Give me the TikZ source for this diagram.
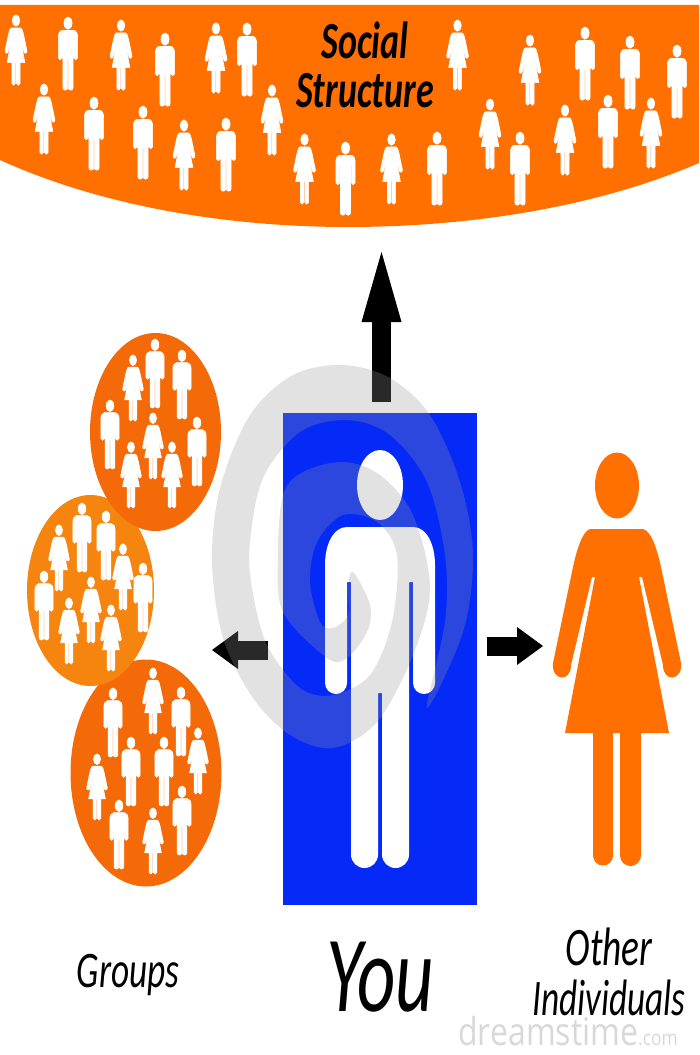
\documentclass[tikz,border=0pt]{standalone}
\usepackage{fontspec}
\setmainfont{Carlito}
\newfontfamily\markfont{Open Sans}
\usetikzlibrary{arrows.meta,positioning}
\definecolor{bannerorange}{HTML}{FF7000}
\definecolor{darkcircle}{HTML}{F56A08}
\definecolor{midcircle}{HTML}{F5850F}
\definecolor{youblue}{HTML}{052AF8}
\definecolor{swirlgray}{RGB}{150,150,150}
\definecolor{markgray}{HTML}{D8D8D8}
\tikzset{
  pics/man/.style={code={
    \path[pic actions] (0,-35) ellipse [x radius=23,y radius=35];
    \path[pic actions] (-33,-77) -- (33,-77) .. controls (47,-77) and (55,-95) .. (55,-115)
      -- (55,-233) arc (0:-180:11) -- (33,-132) -- (29,-132) -- (29,-404.5) arc (0:-180:13.5)
      -- (2,-243) -- (-2,-243) -- (-2,-404.5) arc (0:-180:13.5) -- (-29,-132) -- (-33,-132)
      -- (-33,-233) arc (0:-180:11) -- (-55,-115) .. controls (-55,-95) and (-47,-77) .. cycle;
  }},
  pics/woman/.style={code={
    \path[pic actions] (0,-32.5) ellipse [x radius=22,y radius=33];
    \path[pic actions] (-27,-76) -- (26,-76) .. controls (35,-78) and (41,-100) .. (44,-114)
      -- (64,-210) .. controls (66,-228) and (46,-230) .. (46,-212) -- (25,-124) -- (22,-124)
      -- (52,-280) -- (24,-280) -- (24,-402.5) arc (0:-180:10.5) -- (3,-280) -- (-4,-280)
      -- (-4,-402.5) arc (0:-180:10) -- (-24,-280) -- (-52,-280) -- (-22,-124) -- (-25,-124)
      -- (-46,-212) .. controls (-46,-230) and (-66,-228) .. (-64,-210) -- (-44,-114)
      .. controls (-41,-100) and (-35,-78) .. cycle;
  }}
}

\begin{document}
\begin{tikzpicture}[x=0.75pt,y=0.75pt,
    crowdman/.style={fill=white,draw=white,line width=.5pt,scale=.175},
    crowdwoman/.style={fill=white,draw=white,line width=.5pt,scale=.17},
    groupman/.style={fill=white,draw=white,line width=.5pt,scale=.165},
    groupwoman/.style={fill=white,draw=white,line width=.5pt,scale=.16},
    youbox/.style={fill=youblue,minimum width=145.5pt,minimum height=369pt,inner sep=0pt},
    bigarrow/.style={line width=14.25pt,-{Triangle[length=52.5pt,width=30pt,line width=0pt]}},
    sidearrow/.style={line width=14.25pt,-{Triangle[length=19.5pt,width=28.5pt,line width=0pt]}},
    swirl/.style={fill=swirlgray,fill opacity=.276},
    caption/.style={font=\itshape,transform shape,yscale=1.45,inner sep=0pt}]
  \useasboundingbox (0,0) rectangle (699,-1055);

  \fill[bannerorange] (0,-5) -- (699,-5) -- (699,-163)
    .. controls (590,-210) and (460,-227) .. (348,-227)
    .. controls (240,-227) and (110,-210) .. (0,-160) -- cycle;
  \foreach \x/\y in {68/17,165/33,247/23,94/97,143/106,226/118,345.5/142,437/132,
                     585/27,630/36,677/45,520/132,608/95}
    \pic[crowdman] at (\x,-\y) {man};
  \foreach \x/\y in {16/15,121/20,216/23,44/84,184/120,272/85,304.5/134,391.5/134,
                     457.5/20,530/35,490/99,565/105,651/98}
    \pic[crowdwoman] at (\x,-\y) {woman};
  \node[caption,font=\itshape\bfseries\fontsize{27pt}{27pt}\selectfont] (social) at (365,-40) {Social};
  \node[caption,font=\itshape\bfseries\fontsize{27pt}{27pt}\selectfont] (structure) at (365,-91) {Structure};

  \fill[darkcircle] (146,-773) ellipse [x radius=75.5,y radius=113.5];
  \fill[midcircle] (90.5,-590.5) ellipse [x radius=63.5,y radius=95.5];
  \fill[darkcircle] (155.5,-432) ellipse [x radius=65.5,y radius=99];
  \foreach \x/\y in {155/339,182/350,110/400,197/417,
                     82/503,106/511,143/563,44/571,
                     113/688,181/687,131/737,164/737,182/786,119/800}
    \pic[groupman] at (\x,-\y) {man};
  \foreach \x/\y in {133/355,153/413,131/442,172/442,
                     59/525,123/544,91/577,69/598,111/605,
                     153/668,198/728,97/754,153/808}
    \pic[groupwoman] at (\x,-\y) {woman};

  \node[youbox] (you) at (380,-659) {};
  \pic[fill=white] at (380,-450) {man};
  \pic[fill=bannerorange] at (617,-453) {woman};

  \coordinate (upfrom) at (381.5,-402);
  \coordinate (uptip) at (381.5,-252);
  \coordinate (leftfrom) at (268,-650);
  \coordinate (lefttip) at (212,-650);
  \coordinate (rightfrom) at (487,-646);
  \coordinate (righttip) at (543,-646);
  \draw[bigarrow] (upfrom) -- (uptip);
  \draw[sidearrow] (leftfrom) -- (lefttip);
  \draw[sidearrow] (rightfrom) -- (righttip);

  \path[swirl] plot[smooth cycle,tension=.55] coordinates {(427,-708) (463,-632) (473,-555)
    (460,-482) (430,-415) (390,-378) (343,-365) (293,-375) (250,-415) (220,-488) (212,-562)
    (223,-638) (253,-698) (290,-735) (333,-748) (377,-722) (413,-655) (430,-588) (413,-515)
    (380,-475) (343,-462) (303,-472) (283,-495) (278,-555) (283,-612) (327,-658) (347,-658)
    (367,-632) (370,-605) (353,-572) (348,-588) (348,-615) (333,-628) (320,-622) (310,-582)
    (317,-542) (343,-515) (377,-522) (397,-555) (392,-622) (370,-675) (333,-695) (300,-688)
    (267,-645) (252,-588) (250,-542) (263,-478) (300,-432) (347,-420) (390,-435) (427,-482)
    (445,-555) (445,-622)};

  \node[font=\markfont\fontsize{24pt}{24pt}\selectfont,text=markgray,transform shape,yscale=1.2,
    anchor=west,inner sep=0pt] (mark) at (458,-1031) {dreamstime\fontsize{13pt}{13pt}\selectfont.com};
  \node[caption,font=\itshape\fontsize{26.5pt}{26.5pt}\selectfont] (groups) at (128,-975) {Groups};
  \node[caption,font=\itshape\fontsize{56pt}{56pt}\selectfont] (youlabel) at (380,-977) {You};
  \node[caption,font=\itshape\fontsize{28pt}{28pt}\selectfont] (other) at (609,-947) {Other};
  \node[caption,font=\itshape\fontsize{26.5pt}{26.5pt}\selectfont] (individuals) at (609,-998) {Individuals};
\end{tikzpicture}
\end{document}
